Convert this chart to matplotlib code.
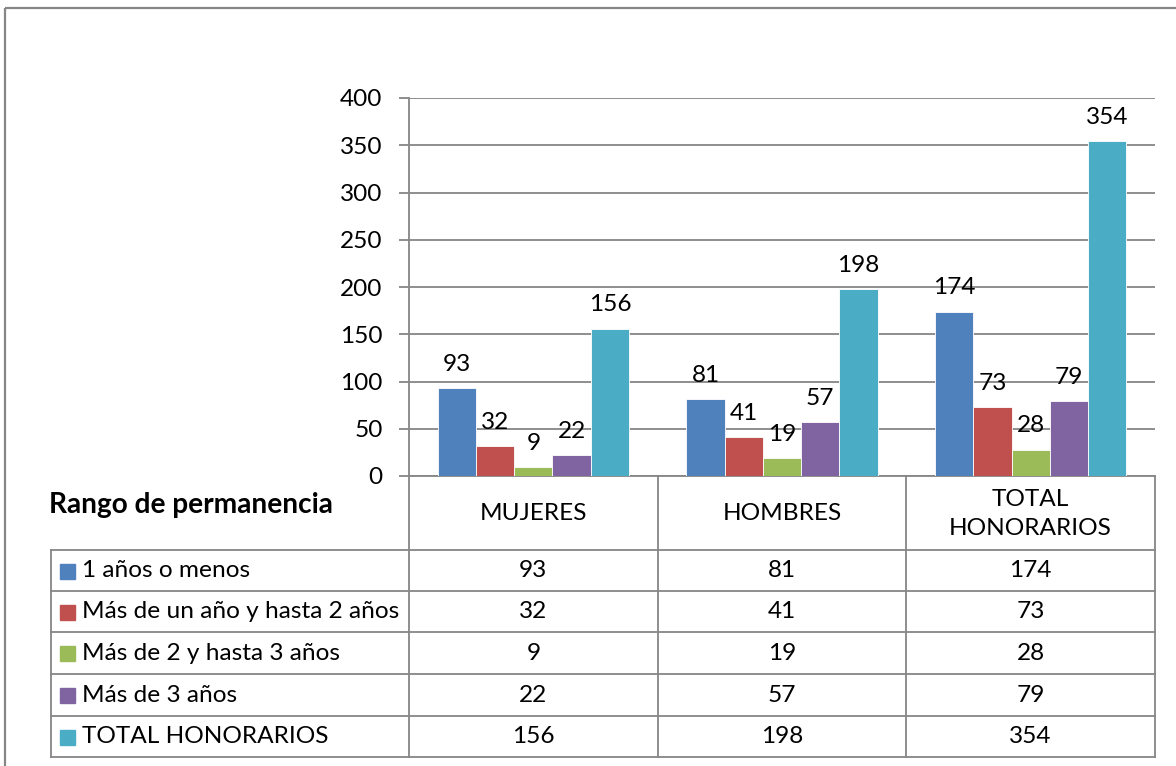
import matplotlib.pyplot as plt
import numpy as np
from matplotlib.lines import Line2D
from matplotlib.patches import Rectangle

plt.rcParams["font.family"] = ["Lato", "DejaVu Sans"]

categories = ["MUJERES", "HOMBRES", "TOTAL\nHONORARIOS"]
series_names = [
    "1 años o menos",
    "Más de un año y hasta 2 años",
    "Más de 2 y hasta 3 años",
    "Más de 3 años",
    "TOTAL HONORARIOS",
]
values = [
    [93, 81, 174],
    [32, 41, 73],
    [9, 19, 28],
    [22, 57, 79],
    [156, 198, 354],
]
colors = ["#4F81BD", "#C0504D", "#9BBB59", "#8064A2", "#4BACC6"]
y_ticks = [0, 50, 100, 150, 200, 250, 300, 350, 400]
table_title = "Rango de permanencia"

W, H = 1176, 766
grid_c = "#868686"
fs = 17.6

# pixel layout
plot_l, plot_r, plot_t, plot_b = 409, 1155, 98, 476
tab_l = 51
row_tops = [550, 591, 632, 674, 716, 757]

fig = plt.figure(figsize=(W / 100, H / 100), dpi=100)

ax = fig.add_axes([plot_l / W, 1 - plot_b / H, (plot_r - plot_l) / W, (plot_b - plot_t) / H])
n = len(series_names)
x = np.arange(len(categories))
bw = 1 / (n + 1.5)
for i, (name, vals) in enumerate(zip(series_names, values)):
    pos = x + (i - (n - 1) / 2) * bw
    bars = ax.bar(pos, vals, bw, color=colors[i], edgecolor="white", linewidth=0.6, zorder=3)
    for b, v in zip(bars, vals):
        ax.annotate(str(v), (b.get_x() + b.get_width() / 2, v), xytext=(0, 9.5),
                    textcoords="offset points", ha="center", va="bottom", fontsize=fs)

ax.set_xlim(-0.5, len(categories) - 0.5)
ax.set_ylim(0, 400)
ax.set_yticks(y_ticks)
ax.set_yticklabels([str(t) for t in y_ticks], fontsize=fs)
ax.set_xticks([])
ax.yaxis.grid(True, color=grid_c, linewidth=1.3, zorder=0)
ax.tick_params(axis="y", direction="out", length=7, width=1.3, color=grid_c, pad=12)
for s in ["top", "right"]:
    ax.spines[s].set_visible(False)
for s in ["left", "bottom"]:
    ax.spines[s].set_color(grid_c)
    ax.spines[s].set_linewidth(1.3)

# overlay for the data table and frame, in pixel coordinates
ov = fig.add_axes([0, 0, 1, 1])
ov.set_xlim(0, W)
ov.set_ylim(H, 0)
ov.axis("off")

lw = 1.3
ov.add_patch(Rectangle((5, 8), W + 10, H + 10, fill=False, edgecolor=grid_c, linewidth=1.6))

col_edges = np.linspace(plot_l, plot_r, len(categories) + 1)
for cx in col_edges:
    ov.add_line(Line2D([cx, cx], [plot_b, row_tops[-1]], color=grid_c, lw=lw))
ov.add_line(Line2D([tab_l, tab_l], [row_tops[0], row_tops[-1]], color=grid_c, lw=lw))
for ry in row_tops:
    ov.add_line(Line2D([tab_l, plot_r], [ry, ry], color=grid_c, lw=lw))

ov.text(49, 505, table_title, fontsize=fs + 2.6, fontweight="bold",
        ha="left", va="center")

for j, cat in enumerate(categories):
    cx = (col_edges[j] + col_edges[j + 1]) / 2
    ov.text(cx, (plot_b + row_tops[0]) / 2 + 1, cat, fontsize=fs, ha="center", va="center",
            linespacing=1.45)

for i, name in enumerate(series_names):
    cy = (row_tops[i] + row_tops[i + 1]) / 2
    ov.add_patch(Rectangle((tab_l + 9, cy - 7), 15, 15, color=colors[i]))
    ov.text(tab_l + 31, cy, name, fontsize=fs, ha="left", va="center")
    for j in range(len(categories)):
        cx = (col_edges[j] + col_edges[j + 1]) / 2
        ov.text(cx, cy, str(values[i][j]), fontsize=fs, ha="center", va="center")

fig.savefig("out.png", dpi=100)
